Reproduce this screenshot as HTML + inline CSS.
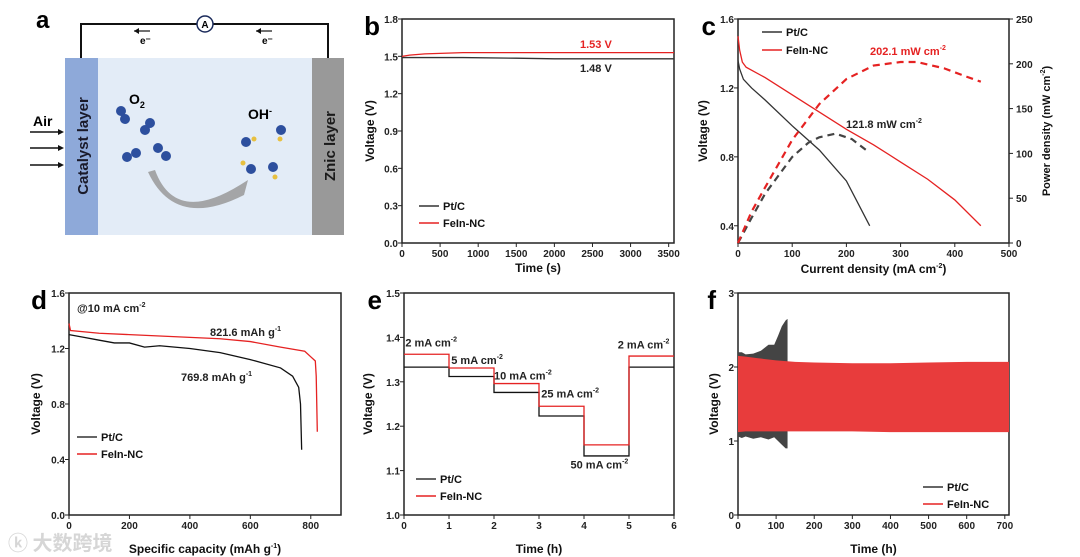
<!DOCTYPE html>
<html><head><meta charset="utf-8"><style>
body{margin:0;background:#fff}
svg{display:block;font-family:"Liberation Sans",Arial,"Noto Sans CJK SC",sans-serif;font-weight:bold}
</style></head><body>
<svg id="fig" width="1080" height="557" viewBox="0 0 1080 557" xmlns="http://www.w3.org/2000/svg">
<g>
<text x="36" y="28" font-size="24">a</text>
<polyline points="81,58 81,24 317,24 328,24 328,58" fill="none" stroke="#111" stroke-width="2"/>
<circle cx="205" cy="24" r="8" fill="#fff" stroke="#1a2a5a" stroke-width="1.5"/>
<text x="205" y="28" font-size="10" text-anchor="middle">A</text>
<text x="140" y="44" font-size="10">e⁻</text>
<text x="262" y="44" font-size="10">e⁻</text>
<line x1="134" y1="31" x2="150" y2="31" stroke="#111" stroke-width="1.2"/><path d="M134,31 l5,-3 v6z" fill="#111"/>
<line x1="256" y1="31" x2="272" y2="31" stroke="#111" stroke-width="1.2"/><path d="M256,31 l5,-3 v6z" fill="#111"/>
<rect x="98" y="58" width="214" height="177" fill="#e3ecf7"/>
<rect x="65" y="58" width="33" height="177" fill="#8ea9d9"/>
<rect x="312" y="58" width="32" height="177" fill="#999"/>
<text transform="translate(88,146) rotate(-90)" text-anchor="middle" font-size="15" fill="#1a1a2a">Catalyst layer</text>
<text transform="translate(335,146) rotate(-90)" text-anchor="middle" font-size="15" fill="#1a1a1a">Znic layer</text>
<text x="33" y="126" font-size="14">Air</text>
<g stroke="#111" stroke-width="1.5"><line x1="30" y1="132" x2="62" y2="132"/><line x1="30" y1="148" x2="62" y2="148"/><line x1="30" y1="165" x2="62" y2="165"/></g>
<g fill="#111"><path d="M64,132 l-6,-3 v6z"/><path d="M64,148 l-6,-3 v6z"/><path d="M64,165 l-6,-3 v6z"/></g>
<text x="129" y="104" font-size="14">O<tspan font-size="9" dy="4">2</tspan></text>
<text x="248" y="119" font-size="14">OH<tspan font-size="9" dy="-5">-</tspan></text>
<g fill="#2d4f9e">
<circle cx="121" cy="111" r="5"/><circle cx="125" cy="119" r="5"/><circle cx="150" cy="123" r="5"/><circle cx="145" cy="130" r="5"/>
<circle cx="127" cy="157" r="5"/><circle cx="136" cy="153" r="5"/><circle cx="158" cy="148" r="5"/><circle cx="166" cy="156" r="5"/>
<circle cx="246" cy="142" r="5"/><circle cx="281" cy="130" r="5"/><circle cx="251" cy="169" r="5"/><circle cx="273" cy="167" r="5"/></g>
<g fill="#e8c040"><circle cx="254" cy="139" r="2.5"/><circle cx="280" cy="139" r="2.5"/><circle cx="243" cy="163" r="2.5"/><circle cx="275" cy="177" r="2.5"/></g>
<path d="M155,170 Q175,225 240,185 L248,180 L244,195 Q175,230 148,172Z" fill="#999" opacity="0.85"/>
</g>
<g id="charts"></g>
<text x="8" y="550" font-size="20" fill="#ccc" opacity="0.8" font-family="'Noto Sans CJK SC',sans-serif">ⓚ 大数跨境</text>
</svg>
<script>
// Panel b data
const bTime=[0,100,300,800,1500,2000,2800,3570];
const bPt=[1.49,1.49,1.49,1.49,1.485,1.48,1.48,1.48];
const bFe=[1.50,1.51,1.52,1.53,1.53,1.53,1.53,1.53];
// Panel c data
const cPtJ=[0,3,10,25,50,100,150,200,243];
const cPtV=[1.36,1.31,1.25,1.20,1.13,0.98,0.84,0.66,0.40];
const cFeJ=[0,3,8,15,50,100,150,200,250,300,350,400,448];
const cFeV=[1.50,1.42,1.35,1.32,1.26,1.16,1.06,0.96,0.87,0.77,0.67,0.55,0.40];
const cPtPJ=[0,25,50,100,130,150,180,210,240];
const cPtPP=[0,28,55,96,112,118,122,116,102];
const cFePJ=[0,25,50,100,150,200,250,300,330,380,420,448];
const cFePP=[0,35,62,115,155,183,198,202,202,195,186,180];
// Panel d data
const dPtCap=[0,50,100,150,200,250,300,400,500,600,700,740,760,766,769.8];
const dPtV=[1.30,1.28,1.26,1.24,1.24,1.21,1.22,1.20,1.17,1.12,1.06,1.00,0.92,0.80,0.47];
const dFeCap=[0,5,100,200,300,400,500,600,700,780,800,815,818,821.6];
const dFeV=[1.38,1.33,1.31,1.30,1.29,1.28,1.27,1.25,1.21,1.18,1.14,1.11,1.00,0.60];
// Panel e data
const eSteps=[0,1,2,3,4,5];
const ePt=[1.333,1.312,1.276,1.223,1.133,1.333];
const eFe=[1.362,1.331,1.296,1.245,1.158,1.358];
const eLabels=["2 mA cm","5 mA cm","10 mA cm","25 mA cm","50 mA cm","2 mA cm"];
// Panel f data
const fPtT=[0,10,20,40,60,80,95,105,115,125,130];
const fPtHi=[2.20,2.20,2.17,2.18,2.22,2.30,2.30,2.42,2.55,2.63,2.65];
const fPtLo=[1.06,1.04,1.06,1.03,1.05,1.02,1.05,1.0,0.95,0.9,0.9];
const fFeT=[0,20,50,100,150,200,300,400,500,600,711];
const fFeHi=[2.15,2.14,2.12,2.09,2.07,2.06,2.05,2.05,2.06,2.07,2.07];
const fFeLo=[1.12,1.13,1.13,1.13,1.13,1.13,1.13,1.12,1.12,1.12,1.12];

const NS="http://www.w3.org/2000/svg";
const root=document.getElementById('charts');
function el(tag,attrs,parent){const e=document.createElementNS(NS,tag);for(const k in attrs)e.setAttribute(k,attrs[k]);(parent||root).appendChild(e);return e;}
function panel(c){
  const sx=v=>c.x0+(v-c.xmin)/(c.xmax-c.xmin)*(c.x1-c.x0);
  const sy=v=>c.y1-(v-c.ymin)/(c.ymax-c.ymin)*(c.y1-c.y0);
  const g=el('g',{});
  
  
  const fr=el('rect',{x:c.x0,y:c.y0,width:c.x1-c.x0,height:c.y1-c.y0,fill:'none',stroke:'#222','stroke-width':1.5},g);
  
  
  c.xt.forEach((v,i)=>{
    const t=el('line',{x1:sx(v),x2:sx(v),y1:c.y1,y2:c.y1+4,stroke:'#222','stroke-width':1},g);
    
    
    const l=el('text',{x:sx(v),y:c.y1+14,'font-size':10,'text-anchor':'middle',fill:'#222'},g);
    
    
    l.textContent=c.xl?c.xl(v):v;
  });
  c.yt.forEach(v=>{
    const t=el('line',{x1:c.x0-4,x2:c.x0,y1:sy(v),y2:sy(v),stroke:'#222','stroke-width':1},g);
    
    
    const l=el('text',{x:c.x0-4,y:sy(v)+4,'font-size':10,'text-anchor':'end',fill:'#222'},g);
    
    
    l.textContent=c.yl?c.yl(v):v.toFixed(1);
  });
  const xt=el('text',{x:(c.x0+c.x1)/2,y:c.xty,'font-size':12,'text-anchor':'middle',fill:'#111'},g);
  
  
  xt.innerHTML=c.xtitle;
  const yt=el('text',{transform:`translate(${c.ytx},${(c.y0+c.y1)/2}) rotate(-90)`,'font-size':12,'text-anchor':'middle',fill:'#111'},g);
  
  
  yt.textContent='Voltage (V)';
  const lt=el('text',{x:c.x0-22,y:c.y0+16,'font-size':26,'text-anchor':'end',fill:'#000'},g);
  
  
  lt.textContent=c.letter;
  return {g,sx,sy};
}
function line(p,xs,ys,color,name,dash,sy2){
  const pts=xs.map((x,i)=>p.sx(x)+','+(sy2?sy2(ys[i]):p.sy(ys[i]))).join(' ');
  const l=el('polyline',{points:pts,fill:'none',stroke:color,'stroke-width':dash?2.2:1.3,'stroke-dasharray':dash?'7,5':'none'},p.g);
  
  
}
function legend(p,x,y,dy){
  [['Pt/C','#333'],['FeIn-NC','#e52222']].forEach((d,i)=>{
    const l=el('line',{x1:x,x2:x+20,y1:y+i*dy,y2:y+i*dy,stroke:d[1],'stroke-width':1.5},p.g);
    
    
    const t=el('text',{x:x+24,y:y+i*dy+4,'font-size':11,fill:'#111'},p.g);
    
    
    t.textContent=d[0];
  });
}
function note(p,x,y,html,color,name){
  const t=el('text',{x:x,y:y,'font-size':11,fill:color||'#222'},p.g);
  
  
  t.innerHTML=html;
}
const sup=s=>`<tspan font-size="7" dy="-5">${s}</tspan>`;

// b
const pb=panel({name:'panel-b-chart',letter:'b',x0:402,x1:674,y0:19,y1:243,xmin:0,xmax:3570,ymin:0,ymax:1.8,
 xt:[0,500,1000,1500,2000,2500,3000,3500],yt:[0,0.3,0.6,0.9,1.2,1.5,1.8],xty:272,ytx:374,xtitle:'Time (s)'});
line(pb,bTime,bPt,'#333','pt-c-line');
line(pb,bTime,bFe,'#e52222','fein-nc-line');
legend(pb,419,206,17);
note(pb,580,48,'1.53 V','#e52222','annotation-fein');
note(pb,580,72,'1.48 V','#222','annotation-pt');
// c
const pc=panel({name:'panel-c-chart',letter:'c',x0:738,x1:1009,y0:19,y1:243,xmin:0,xmax:500,ymin:0.3,ymax:1.6,
 xt:[0,100,200,300,400,500],yt:[0.4,0.8,1.2,1.6],xty:273,ytx:707,xtitle:'Current density (mA cm'+sup('-2')+'<tspan dy="5">)</tspan>'});
const syP=v=>243-v/250*224;
[0,50,100,150,200,250].forEach(v=>{
  const t=el('line',{x1:1009,x2:1013,y1:syP(v),y2:syP(v),stroke:'#222'},pc.g);
  
  
  const l=el('text',{x:1016,y:syP(v)+4,'font-size':10,fill:'#222'},pc.g);
  
  
  l.textContent=v;
});
const rt=el('text',{transform:'translate(1050,131) rotate(-90)','font-size':11,'text-anchor':'middle',fill:'#111'},pc.g);


rt.innerHTML='Power density (mW cm'+sup('-2')+'<tspan dy="5">)</tspan>';
line(pc,cPtJ,cPtV,'#333','pt-c-polarization');
line(pc,cFeJ,cFeV,'#e52222','fein-nc-polarization');
line(pc,cPtPJ,cPtPP,'#444','pt-c-power',true,syP);
line(pc,cFePJ,cFePP,'#e52222','fein-nc-power',true,syP);
legend(pc,762,32,18);
note(pc,870,55,'202.1 mW cm'+sup('-2'),'#e52222','annotation-fein-power');
note(pc,846,128,'121.8 mW cm'+sup('-2'),'#222','annotation-pt-power');
// d
const pd=panel({name:'panel-d-chart',letter:'d',x0:69,x1:341,y0:293,y1:515,xmin:0,xmax:900,ymin:0,ymax:1.6,
 xt:[0,200,400,600,800],yt:[0,0.4,0.8,1.2,1.6],xty:553,ytx:40,xtitle:'Specific capacity (mAh g'+sup('-1')+'<tspan dy="5">)</tspan>'});
line(pd,dPtCap,dPtV,'#111','pt-c-discharge');
line(pd,dFeCap,dFeV,'#e52222','fein-nc-discharge');
legend(pd,77,437,17);
note(pd,77,312,'@10 mA cm'+sup('-2'),'#222','condition-label');
note(pd,210,336,'821.6 mAh g'+sup('-1'),'#222','annotation-fein');
note(pd,181,381,'769.8 mAh g'+sup('-1'),'#222','annotation-pt');
// e
const pe=panel({name:'panel-e-chart',letter:'e',x0:404,x1:674,y0:293,y1:515,xmin:0,xmax:6,ymin:1.0,ymax:1.5,
 xt:[0,1,2,3,4,5,6],yt:[1.0,1.1,1.2,1.3,1.4,1.5],xty:553,ytx:372,xtitle:'Time (h)'});
function steps(arr){const xs=[],ys=[];eSteps.forEach((s,i)=>{xs.push(s,s+1);ys.push(arr[i],arr[i]);});return [xs,ys];}
const sP=steps(ePt),sF=steps(eFe);
line(pe,sP[0],sP[1],'#111','pt-c-rate-line');
line(pe,sF[0],sF[1],'#e52222','fein-nc-rate-line');
legend(pe,416,479,17);
const eLx=[0.03,1.05,2.0,3.05,3.7,4.75],eLy=[1.38,1.34,1.305,1.265,1.105,1.375];
eLabels.forEach((s,i)=>note(pe,pe.sx(eLx[i]),pe.sy(eLy[i]),s+sup('-2'),'#222','rate-label'));
// f
const pf=panel({name:'panel-f-chart',letter:'f',x0:738,x1:1009,y0:293,y1:515,xmin:0,xmax:711,ymin:0,ymax:3,
 xt:[0,100,200,300,400,500,600,700],yt:[0,1,2,3],xty:553,ytx:718,xtitle:'Time (h)',yl:v=>v});
function band(xs,hi,lo,color,name){
  const pts=xs.map((x,i)=>pf.sx(x)+','+pf.sy(hi[i])).concat(xs.slice().reverse().map((x,i)=>pf.sx(x)+','+pf.sy(lo[xs.length-1-i])));
  const p=el('polygon',{points:pts.join(' '),fill:color},pf.g);
  
  
}
band(fPtT,fPtHi,fPtLo,'#444','pt-c-cycling-band');
band(fFeT,fFeHi,fFeLo,'#e83c3c','fein-nc-cycling-band');
legend(pf,923,487,17);
</script>
</body></html>
